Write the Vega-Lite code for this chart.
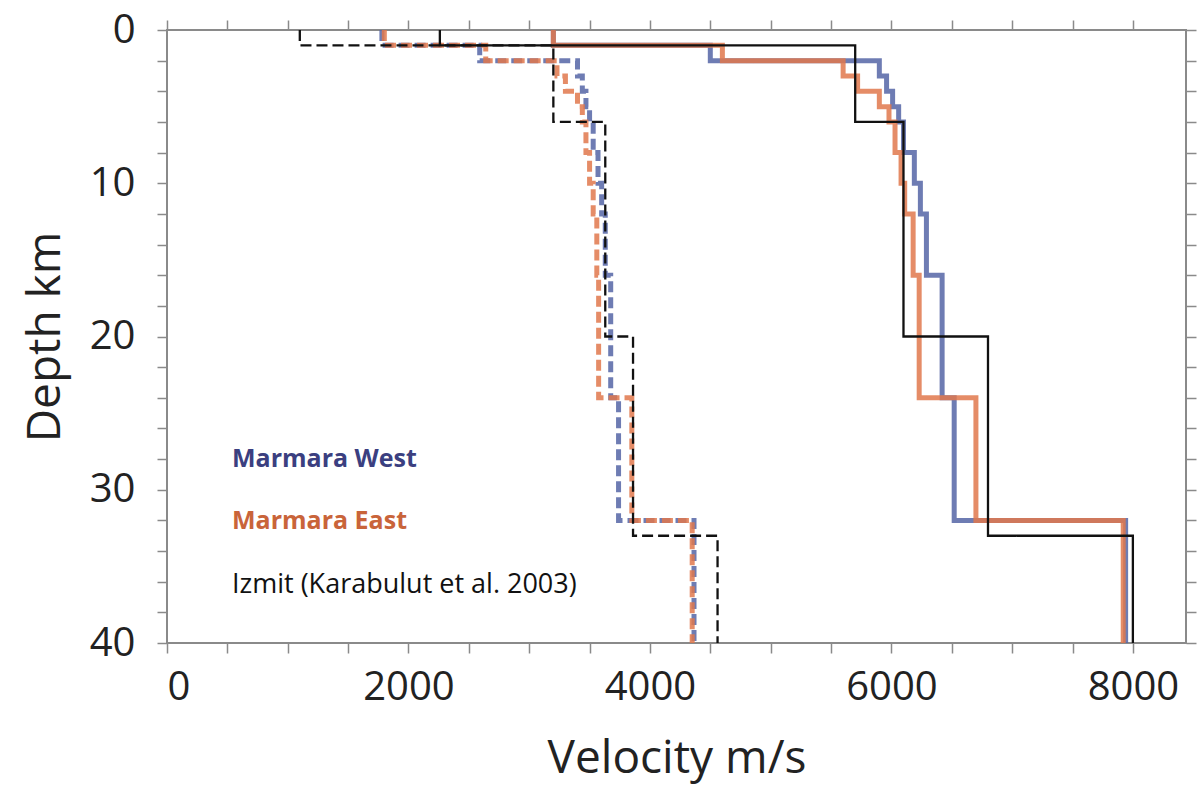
{
  "$schema": "https://vega.github.io/schema/vega-lite/v6.json",
  "width": 1019,
  "height": 613,
  "autosize": {"type": "none"},
  "padding": {"left": 167, "top": 30, "right": 11, "bottom": 144},
  "background": "white",
  "config": {
    "font": "Open Sans",
    "view": {"stroke": "#8a8a8a", "strokeWidth": 2},
    "axis": {
      "domain": false,
      "grid": false,
      "tickColor": "#8a8a8a",
      "tickWidth": 1.5,
      "tickSize": 10,
      "labelFont": "Open Sans",
      "labelFontSize": 40,
      "labelColor": "#222222",
      "labelOverlap": false,
      "labelBound": false,
      "titleFont": "Open Sans",
      "titleFontSize": 46,
      "titleFontWeight": "normal",
      "titleColor": "#222222"
    }
  },
  "datasets": {
    "profiles": [
      {"model": "Marmara West", "wave": "P", "v": 3200, "d": 0},
      {"model": "Marmara West", "wave": "P", "v": 4500, "d": 1},
      {"model": "Marmara West", "wave": "P", "v": 5900, "d": 2},
      {"model": "Marmara West", "wave": "P", "v": 5960, "d": 3},
      {"model": "Marmara West", "wave": "P", "v": 6010, "d": 4},
      {"model": "Marmara West", "wave": "P", "v": 6060, "d": 5},
      {"model": "Marmara West", "wave": "P", "v": 6100, "d": 6},
      {"model": "Marmara West", "wave": "P", "v": 6190, "d": 8},
      {"model": "Marmara West", "wave": "P", "v": 6240, "d": 10},
      {"model": "Marmara West", "wave": "P", "v": 6290, "d": 12},
      {"model": "Marmara West", "wave": "P", "v": 6420, "d": 16},
      {"model": "Marmara West", "wave": "P", "v": 6520, "d": 24},
      {"model": "Marmara West", "wave": "P", "v": 7940, "d": 32},
      {"model": "Marmara West", "wave": "P", "v": 7940, "d": 40},
      {"model": "Marmara East", "wave": "P", "v": 3200, "d": 0},
      {"model": "Marmara East", "wave": "P", "v": 4600, "d": 1},
      {"model": "Marmara East", "wave": "P", "v": 5600, "d": 2},
      {"model": "Marmara East", "wave": "P", "v": 5720, "d": 3},
      {"model": "Marmara East", "wave": "P", "v": 5900, "d": 4},
      {"model": "Marmara East", "wave": "P", "v": 5980, "d": 5},
      {"model": "Marmara East", "wave": "P", "v": 6030, "d": 6},
      {"model": "Marmara East", "wave": "P", "v": 6080, "d": 8},
      {"model": "Marmara East", "wave": "P", "v": 6110, "d": 10},
      {"model": "Marmara East", "wave": "P", "v": 6180, "d": 12},
      {"model": "Marmara East", "wave": "P", "v": 6230, "d": 16},
      {"model": "Marmara East", "wave": "P", "v": 6700, "d": 24},
      {"model": "Marmara East", "wave": "P", "v": 7920, "d": 32},
      {"model": "Marmara East", "wave": "P", "v": 7920, "d": 40},
      {"model": "Marmara West", "wave": "S", "v": 1780, "d": 0},
      {"model": "Marmara West", "wave": "S", "v": 2590, "d": 1},
      {"model": "Marmara West", "wave": "S", "v": 3400, "d": 2},
      {"model": "Marmara West", "wave": "S", "v": 3440, "d": 3},
      {"model": "Marmara West", "wave": "S", "v": 3470, "d": 4},
      {"model": "Marmara West", "wave": "S", "v": 3500, "d": 5},
      {"model": "Marmara West", "wave": "S", "v": 3530, "d": 6},
      {"model": "Marmara West", "wave": "S", "v": 3570, "d": 8},
      {"model": "Marmara West", "wave": "S", "v": 3600, "d": 10},
      {"model": "Marmara West", "wave": "S", "v": 3630, "d": 12},
      {"model": "Marmara West", "wave": "S", "v": 3675, "d": 16},
      {"model": "Marmara West", "wave": "S", "v": 3740, "d": 24},
      {"model": "Marmara West", "wave": "S", "v": 4365, "d": 32},
      {"model": "Marmara West", "wave": "S", "v": 4365, "d": 40},
      {"model": "Marmara East", "wave": "S", "v": 1800, "d": 0},
      {"model": "Marmara East", "wave": "S", "v": 2640, "d": 1},
      {"model": "Marmara East", "wave": "S", "v": 3230, "d": 2},
      {"model": "Marmara East", "wave": "S", "v": 3300, "d": 3},
      {"model": "Marmara East", "wave": "S", "v": 3400, "d": 4},
      {"model": "Marmara East", "wave": "S", "v": 3440, "d": 5},
      {"model": "Marmara East", "wave": "S", "v": 3470, "d": 6},
      {"model": "Marmara East", "wave": "S", "v": 3500, "d": 8},
      {"model": "Marmara East", "wave": "S", "v": 3530, "d": 10},
      {"model": "Marmara East", "wave": "S", "v": 3560, "d": 12},
      {"model": "Marmara East", "wave": "S", "v": 3575, "d": 16},
      {"model": "Marmara East", "wave": "S", "v": 3850, "d": 24},
      {"model": "Marmara East", "wave": "S", "v": 4350, "d": 32},
      {"model": "Marmara East", "wave": "S", "v": 4350, "d": 40},
      {"model": "Izmit (Karabulut et al. 2003)", "wave": "P", "v": 2260, "d": 0},
      {"model": "Izmit (Karabulut et al. 2003)", "wave": "P", "v": 5700, "d": 1},
      {"model": "Izmit (Karabulut et al. 2003)", "wave": "P", "v": 6100, "d": 6},
      {"model": "Izmit (Karabulut et al. 2003)", "wave": "P", "v": 6800, "d": 20},
      {"model": "Izmit (Karabulut et al. 2003)", "wave": "P", "v": 8000, "d": 33},
      {"model": "Izmit (Karabulut et al. 2003)", "wave": "P", "v": 8000, "d": 40},
      {"model": "Izmit (Karabulut et al. 2003)", "wave": "S", "v": 1100, "d": 0},
      {"model": "Izmit (Karabulut et al. 2003)", "wave": "S", "v": 3200, "d": 1},
      {"model": "Izmit (Karabulut et al. 2003)", "wave": "S", "v": 3630, "d": 6},
      {"model": "Izmit (Karabulut et al. 2003)", "wave": "S", "v": 3860, "d": 20},
      {"model": "Izmit (Karabulut et al. 2003)", "wave": "S", "v": 4560, "d": 33},
      {"model": "Izmit (Karabulut et al. 2003)", "wave": "S", "v": 4560, "d": 40}
    ]
  },
  "data": {"name": "profiles"},
  "layer": [
    {
      "transform": [{"filter": "datum.model !== 'Izmit (Karabulut et al. 2003)'"}],
      "mark": {"type": "line", "interpolate": "step-before", "strokeWidth": 5, "opacity": 0.85, "strokeJoin": "miter", "strokeCap": "butt"},
      "encoding": {
        "x": {
          "field": "v", "type": "quantitative",
          "scale": {"domain": [0, 8440], "nice": false, "zero": false},
          "axis": {
            "orient": "bottom",
            "values": [0, 500, 1000, 1500, 2000, 2500, 3000, 3500, 4000, 4500, 5000, 5500, 6000, 6500, 7000, 7500, 8000],
            "labelExpr": "datum.value % 2000 === 0 ? format(datum.value, 'd') : ''",
            "labelPadding": 14,
            "title": "Velocity m/s",
            "titlePadding": 29,
            "encode": {"ticks": {"update": {"y2": {"signal": "datum.value % 2000 === 0 ? 10 : 7"}}}}
          }
        },
        "y": {
          "field": "d", "type": "quantitative",
          "scale": {"domain": [0, 40], "reverse": true, "nice": false, "zero": false},
          "axis": {
            "orient": "left",
            "values": [0, 2, 4, 6, 8, 10, 12, 14, 16, 18, 20, 22, 24, 26, 28, 30, 32, 34, 36, 38, 40],
            "labelExpr": "datum.value % 10 === 0 ? format(datum.value, 'd') : ''",
            "labelPadding": 22,
            "title": "Depth km",
            "titlePadding": 20,
            "encode": {"ticks": {"update": {"x2": {"signal": "datum.value % 10 === 0 ? -10 : -7"}}}}
          }
        },
        "color": {
          "field": "model", "type": "nominal",
          "scale": {"domain": ["Marmara West", "Marmara East", "Izmit (Karabulut et al. 2003)"], "range": ["#5565a6", "#e0784c", "#111111"]},
          "legend": {
            "orient": "none",
            "legendX": 40,
            "legendY": 416,
            "title": null,
            "padding": 0,
            "symbolOpacity": 0,
            "symbolSize": 0,
            "symbolStrokeWidth": 0,
            "labelOffset": 0,
            "labelFont": "Open Sans",
            "labelFontSize": 26,
            "labelLimit": 0,
            "rowPadding": 36,
            "encode": {
              "labels": {
                "update": {
                  "fill": {"signal": "datum.value === 'Marmara West' ? '#3b3f80' : datum.value === 'Marmara East' ? '#c9643a' : '#111111'"},
                  "fontWeight": {"signal": "datum.value === 'Izmit (Karabulut et al. 2003)' ? 'normal' : 'bold'"},
                  "fontSize": {"signal": "datum.value === 'Izmit (Karabulut et al. 2003)' ? 27 : 25"}
                }
              }
            }
          }
        },
        "strokeDash": {
          "field": "wave", "type": "nominal",
          "scale": {"domain": ["P", "S"], "range": [[1, 0], [11, 5]]},
          "legend": null
        },
        "order": {"field": "d", "type": "quantitative"}
      }
    },
    {
      "transform": [{"filter": "datum.model === 'Izmit (Karabulut et al. 2003)'"}],
      "mark": {"type": "line", "interpolate": "step-before", "strokeWidth": 2.3, "strokeJoin": "miter", "strokeCap": "butt"},
      "encoding": {
        "x": {
          "field": "v", "type": "quantitative",
          "axis": {
            "orient": "top",
            "values": [0, 500, 1000, 1500, 2000, 2500, 3000, 3500, 4000, 4500, 5000, 5500, 6000, 6500, 7000, 7500, 8000],
            "labels": false,
            "title": null,
            "encode": {"ticks": {"update": {"y2": {"signal": "datum.value % 2000 === 0 ? -10 : -7"}}}}
          }
        },
        "y": {
          "field": "d", "type": "quantitative",
          "axis": {
            "orient": "right",
            "values": [0, 2, 4, 6, 8, 10, 12, 14, 16, 18, 20, 22, 24, 26, 28, 30, 32, 34, 36, 38, 40],
            "labels": false,
            "title": null,
            "encode": {"ticks": {"update": {"x2": {"signal": "datum.value % 10 === 0 ? 10 : 7"}}}}
          }
        },
        "color": {"field": "model", "type": "nominal"},
        "strokeDash": {"field": "wave", "type": "nominal", "legend": null},
        "order": {"field": "d", "type": "quantitative"}
      }
    }
  ],
  "resolve": {"axis": {"x": "independent", "y": "independent"}}
}
